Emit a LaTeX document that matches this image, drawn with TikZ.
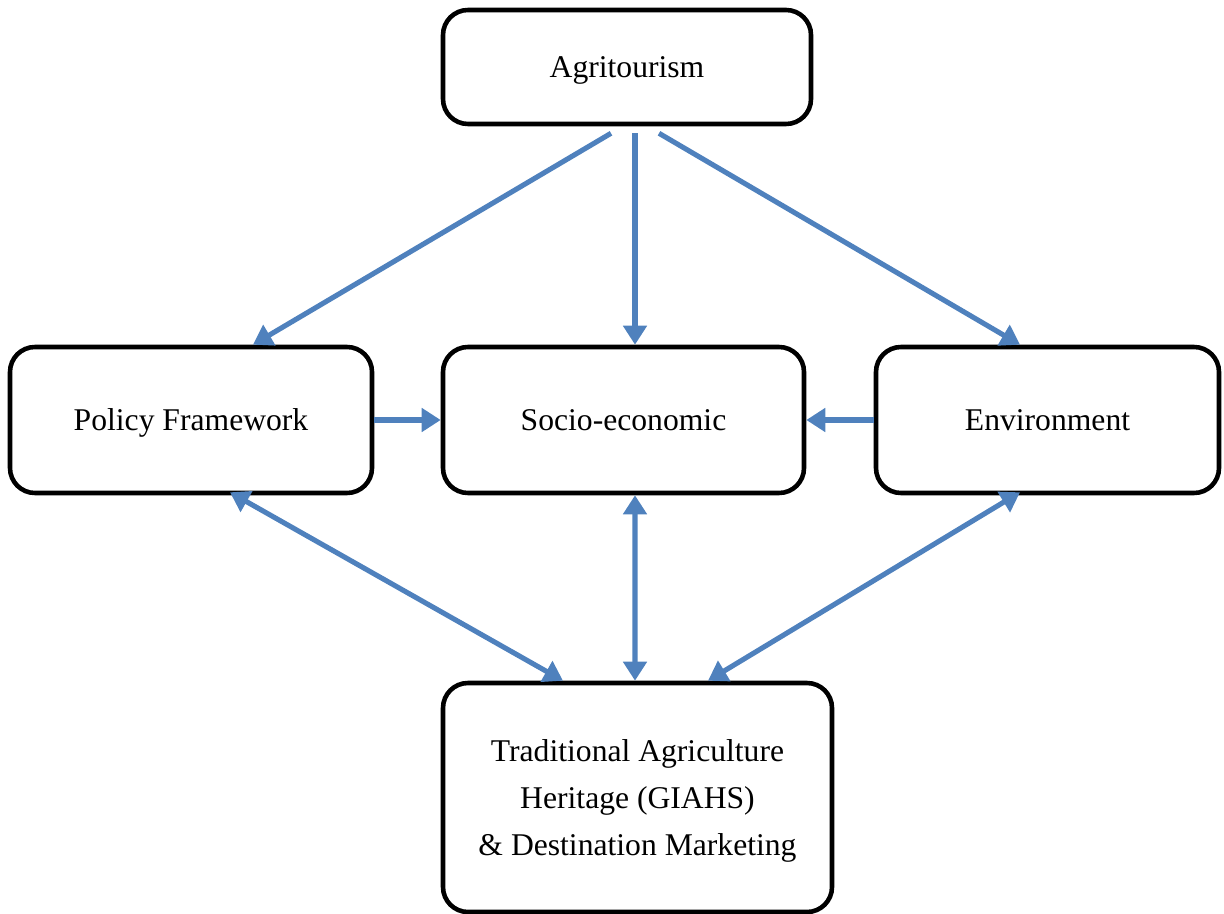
\documentclass[tikz,border=0pt]{standalone}
\usepackage{fontspec}
\setmainfont{Liberation Serif}
\usepackage{tikz}
\usetikzlibrary{arrows.meta, positioning, calc}
\definecolor{linkBlue}{HTML}{4F81BD}
\tikzset{
    factor/.style={draw=black, line width=2.6pt, rounded corners=0.5cm, fill=white,
        align=center, font=\fontsize{18}{27}\selectfont, inner sep=0pt, text depth=0pt},
    link/.style={linkBlue, line width=2.9pt, -{Triangle[length=0.38cm, width=0.46cm]}},
    twolink/.style={link, {Triangle[length=0.38cm, width=0.46cm]}-{Triangle[length=0.38cm, width=0.46cm]}}
}

\begin{document}
\begin{tikzpicture}
        \useasboundingbox (0,0) rectangle (24.48,18.26);

        % --- FACTORS ---
        \node[factor, minimum width=7.36cm, minimum height=2.28cm] (agri) at (12.54, 16.92) {Agritourism};
        \node[factor, minimum width=7.24cm, minimum height=2.92cm] (policy) at (3.82, 9.86) {Policy Framework};
        \node[factor, minimum width=7.22cm, minimum height=2.92cm] (socio) at (12.47, 9.86) {Socio-economic};
        \node[factor, minimum width=6.86cm, minimum height=2.92cm] (env) at (20.95, 9.86) {Environment};
        \node[factor, minimum width=7.78cm, minimum height=4.58cm] (trad) at (12.75, 2.31)
            {Traditional Agriculture\\Heritage (GIAHS)\\\& Destination Marketing};

        % Agritourism feeds the three middle boxes
        \draw[link] ([xshift=-0.32cm, yshift=-0.14cm]agri.south) -- ([xshift=1.24cm]policy.north);
        \draw[link] ([xshift=0.16cm, yshift=-0.14cm]agri.south) -- ([xshift=0.23cm]socio.north);
        \draw[link] ([xshift=0.64cm, yshift=-0.14cm]agri.south) -- ([xshift=-0.55cm]env.north);

        % Side boxes into socio-economic
        \draw[link] (policy.east) -- (socio.west);
        \draw[link] (env.west) -- (socio.east);

        % --- TWO-WAY LINKS TO HERITAGE ---
        \draw[twolink] ([xshift=0.78cm, yshift=0.06cm]policy.south) -- ([xshift=-1.49cm]trad.north);
        \draw[twolink] ([xshift=0.23cm]socio.south) -- ([xshift=-0.05cm]trad.north);
        \draw[twolink] ([xshift=-0.55cm, yshift=0.06cm]env.south) -- ([xshift=1.41cm]trad.north);

    \end{tikzpicture}
\end{document}
